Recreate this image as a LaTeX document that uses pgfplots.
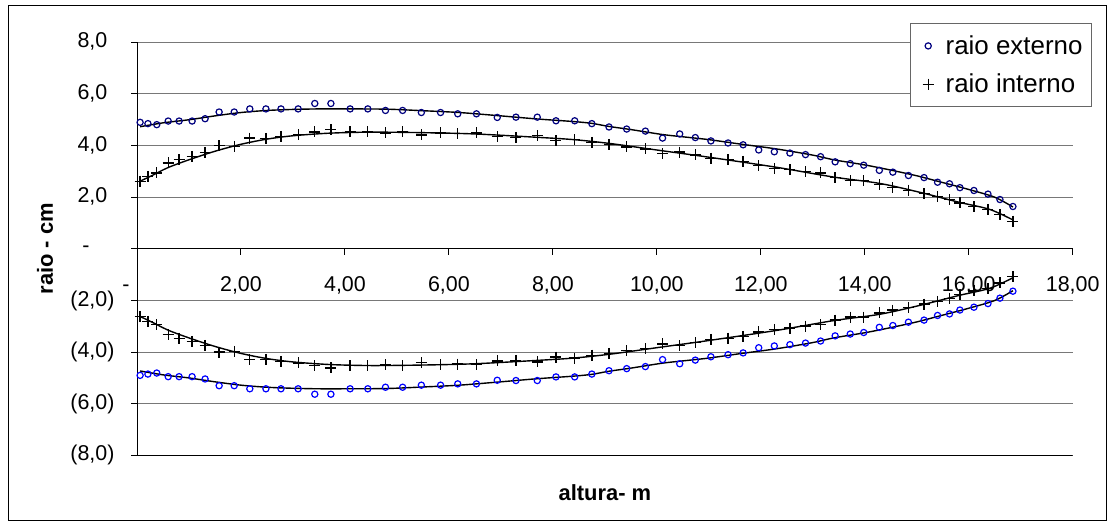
\documentclass[border=0pt]{standalone}
\usepackage{pgfplots}
\usepackage{pgfplotstable}
\pgfplotsset{compat=1.18}
\usepackage{fontspec}
\setmainfont{Liberation Sans}
\definecolor{navyc}{RGB}{0,0,128}
\definecolor{bluec}{RGB}{0,0,255}
\definecolor{gridc}{RGB}{120,120,120}

\pgfplotstableread{
x ext int next nint
0.06 4.90 2.62 -4.90 -2.62
0.21 4.85 2.81 -4.85 -2.81
0.38 4.81 2.94 -4.81 -2.94
0.60 4.95 3.33 -4.95 -3.33
0.81 4.95 3.46 -4.95 -3.46
1.06 4.95 3.58 -4.95 -3.58
1.31 5.04 3.74 -5.04 -3.74
1.58 5.30 4.00 -5.30 -4.00
1.87 5.30 3.97 -5.30 -3.97
2.17 5.42 4.29 -5.42 -4.29
2.48 5.42 4.28 -5.42 -4.28
2.77 5.42 4.36 -5.42 -4.36
3.10 5.42 4.42 -5.42 -4.42
3.42 5.63 4.53 -5.63 -4.53
3.73 5.63 4.61 -5.63 -4.61
4.10 5.42 4.53 -5.42 -4.53
4.44 5.42 4.53 -5.42 -4.53
4.78 5.36 4.49 -5.36 -4.49
5.11 5.36 4.53 -5.36 -4.53
5.47 5.28 4.41 -5.28 -4.41
5.84 5.28 4.49 -5.28 -4.49
6.17 5.23 4.46 -5.23 -4.46
6.53 5.23 4.49 -5.23 -4.49
6.93 5.09 4.34 -5.09 -4.34
7.29 5.10 4.32 -5.10 -4.32
7.70 5.10 4.38 -5.10 -4.38
8.06 4.96 4.19 -4.96 -4.19
8.42 4.96 4.23 -4.96 -4.23
8.75 4.85 4.12 -4.85 -4.12
9.08 4.72 4.05 -4.72 -4.05
9.42 4.64 3.95 -4.64 -3.95
9.78 4.56 3.87 -4.56 -3.87
10.11 4.29 3.68 -4.29 -3.68
10.44 4.45 3.75 -4.45 -3.75
10.74 4.31 3.64 -4.31 -3.64
11.04 4.18 3.51 -4.18 -3.51
11.37 4.10 3.46 -4.10 -3.46
11.66 4.03 3.39 -4.03 -3.39
11.96 3.83 3.22 -3.83 -3.22
12.26 3.76 3.12 -3.76 -3.12
12.56 3.71 3.07 -3.71 -3.07
12.86 3.65 2.99 -3.65 -2.99
13.15 3.57 2.94 -3.57 -2.94
13.43 3.37 2.76 -3.37 -2.76
13.72 3.30 2.64 -3.30 -2.64
13.98 3.24 2.64 -3.24 -2.64
14.28 3.04 2.48 -3.04 -2.48
14.54 2.97 2.37 -2.97 -2.37
14.84 2.84 2.27 -2.84 -2.27
15.14 2.76 2.14 -2.76 -2.14
15.40 2.58 2.03 -2.58 -2.03
15.63 2.52 1.91 -2.52 -1.91
15.83 2.37 1.78 -2.37 -1.78
16.10 2.26 1.63 -2.26 -1.63
16.37 2.12 1.53 -2.12 -1.53
16.60 1.91 1.32 -1.91 -1.32
16.85 1.64 1.07 -1.64 -1.07
}\pts

\pgfplotstableread{
x y ny
0.06 4.73 -4.73
0.5 4.88 -4.88
1.0 5.00 -5.00
1.5 5.15 -5.15
2.0 5.28 -5.28
2.5 5.36 -5.36
3.0 5.40 -5.40
3.5 5.42 -5.42
4.0 5.42 -5.42
4.8 5.41 -5.41
5.5 5.35 -5.35
6.2 5.28 -5.28
7.0 5.15 -5.15
7.7 5.03 -5.03
8.4 4.93 -4.93
8.75 4.86 -4.86
9.08 4.74 -4.74
9.5 4.62 -4.62
10.1 4.43 -4.43
10.5 4.34 -4.34
11.0 4.23 -4.23
11.6 4.06 -4.06
12.3 3.87 -3.87
13.0 3.63 -3.63
13.4 3.45 -3.45
14.0 3.25 -3.25
14.5 3.05 -3.05
15.0 2.83 -2.83
15.4 2.62 -2.62
16.0 2.30 -2.30
16.5 2.00 -2.00
16.85 1.62 -1.62
}\extline

\pgfplotstableread{
x y ny
0.06 2.62 -2.62
0.3 2.85 -2.85
0.6 3.15 -3.15
1.0 3.45 -3.45
1.5 3.78 -3.78
2.0 4.05 -4.05
2.5 4.25 -4.25
3.0 4.38 -4.38
3.7 4.48 -4.48
4.5 4.52 -4.52
5.5 4.50 -4.50
6.5 4.45 -4.45
7.7 4.32 -4.32
8.4 4.23 -4.23
9.1 4.08 -4.08
10.1 3.80 -3.80
11.0 3.55 -3.55
12.3 3.16 -3.16
13.4 2.78 -2.78
14.3 2.53 -2.53
15.1 2.17 -2.17
15.8 1.81 -1.81
16.4 1.53 -1.53
16.85 1.12 -1.12
}\intline

\begin{document}
\begin{tikzpicture}
\useasboundingbox (0,0) rectangle (1114bp,528bp);
\fill[white] (0,0) rectangle (1114bp,528bp);
\draw[black, line width=1bp] (8.3bp,7bp) rectangle (1106bp,522bp);
\begin{axis}[
  at={(137bp,72.6bp)}, anchor=south west,
  scale only axis, width=935.7bp, height=413.1bp,
  xmin=0, xmax=18, ymin=-8, ymax=8,
  axis x line*=middle, axis y line*=left,
  hide obscured x ticks=false, hide obscured y ticks=false,
  axis line style={black, line width=1bp},
  ymajorgrids, grid style={gridc, line width=1bp},
  xtick={0,2,...,18}, ytick={-8,-6,...,8},
  xticklabels={{\vphantom{0}-\rule{22bp}{0pt}},{2,00},{4,00},{6,00},{8,00},{10,00},{12,00},{14,00},{16,00},{18,00}},
  yticklabels={{(8,0)},{(6,0)},{(4,0)},{(2,0)},{-\rule{25bp}{0pt}},{2,0\phantom{)}},{4,0\phantom{)}},{6,0\phantom{)}},{8,0\phantom{)}}},
  tick align=outside, major tick length=6bp,
  tick style={black, line width=1bp},
  ticklabel style={font=\fontsize{21.5}{24}\selectfont},
  xticklabel style={yshift=-18bp},
  yticklabel style={anchor=east, xshift=-13bp},
  xlabel={altura- m}, ylabel={raio - cm},
  label style={font=\bfseries\fontsize{22}{26}\selectfont},
  xlabel style={at={(axis description cs:0.5,-0.091)}, anchor=center},
  ylabel style={at={(axis description cs:-0.0983,0.5)}, anchor=center, rotate=0},
  legend style={at={(1.0206,1.046)}, anchor=north east, draw=black!60, fill=white,
    font=\fontsize{26}{30}\selectfont, inner xsep=7bp, inner ysep=10bp, row sep=14bp,
    line width=1bp},
  legend image code/.code={\path (0bp,0bp) (25bp,0bp); \draw[#1] plot coordinates {(10bp,0bp)};},
  legend cell align=left,
]
\addplot[navyc, only marks, mark=o, mark size=3.1bp, mark options={line width=1.2bp}] table[x=x,y=ext]{\pts};
\addlegendentry{raio externo}
\addplot[black, only marks, mark=+, mark size=5.5bp, mark options={line width=1.3bp}] table[x=x,y=int]{\pts};
\addlegendentry{raio interno}
\addplot[forget plot, bluec, only marks, mark=o, mark size=3.1bp, mark options={line width=1.2bp}] table[x=x,y=next]{\pts};
\addplot[forget plot, black, only marks, mark=+, mark size=5.5bp, mark options={line width=1.3bp}] table[x=x,y=nint]{\pts};
\addplot[forget plot, black, line width=1.4bp, smooth, no marks] table[x=x,y=y]{\extline};
\addplot[forget plot, black, line width=1.4bp, smooth, no marks] table[x=x,y=ny]{\extline};
\addplot[forget plot, black, line width=1.4bp, smooth, no marks] table[x=x,y=y]{\intline};
\addplot[forget plot, black, line width=1.4bp, smooth, no marks] table[x=x,y=ny]{\intline};
\draw[black, line width=1bp] (axis cs:0,-8) -- (axis cs:18,-8);
\end{axis}
\end{tikzpicture}
\end{document}
